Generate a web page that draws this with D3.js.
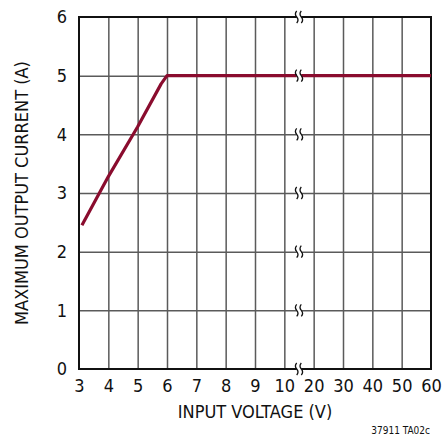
<!DOCTYPE html>
<html><head><meta charset="utf-8">
<script src="https://cdn.jsdelivr.net/npm/d3@7"></script>
<style>
body{margin:0;background:#fff;}
svg text{font-family:"Liberation Sans Narrow","Arial Narrow","DejaVu Sans Condensed",sans-serif;fill:#111;}
</style></head><body>
<svg id="c" width="445" height="436"></svg>
<script>
const xTicks = [3,4,5,6,7,8,9,10,20,30,40,50,60];
const yTicks = [0,1,2,3,4,5,6];
const vin  = [3.1, 4.0, 5.0, 5.8, 6.0, 10, 20, 60];
const iout = [2.45, 3.28, 4.13, 4.86, 5.0, 5.0, 5.0, 5.0];
const xTitle = "INPUT VOLTAGE (V)";
const yTitle = "MAXIMUM OUTPUT CURRENT (A)";
const note = "37911 TA02c";

const L=79, R=431, T=17, B=369;
const w=(R-L)/12;
const x = d3.scaleLinear().domain([3,10,20,60]).range([L, L+7*w, L+8*w, R]);
const y = d3.scaleLinear().domain([0,6]).range([B,T]);
const svg = d3.select("#c");

// grid
const gx = svg.append("g").attr("transform",`translate(0,${B})`)
  .call(d3.axisBottom(x).tickValues(xTicks.slice(1,-1)).tickSize(-(B-T)).tickFormat(""));
gx.select(".domain").remove();
gx.selectAll("line").attr("stroke","#5a5a5a").attr("stroke-width",1.5);
const gy = svg.append("g").attr("transform",`translate(${L},0)`)
  .call(d3.axisLeft(y).tickValues(yTicks.slice(1,-1)).tickSize(-(R-L)).tickFormat(""));
gy.select(".domain").remove();
gy.selectAll("line").attr("stroke","#5a5a5a").attr("stroke-width",1.5);

// border
svg.append("rect").attr("x",L).attr("y",T).attr("width",R-L).attr("height",B-T)
  .attr("fill","none").attr("stroke","#111").attr("stroke-width",2);

// data line
svg.append("path").datum(vin.map((v,i)=>[v,iout[i]]))
  .attr("fill","none").attr("stroke","#8a0c2e").attr("stroke-width",3.2)
  .attr("stroke-linejoin","round")
  .attr("d", d3.line().x(d=>x(d[0])).y(d=>y(d[1])));

// break marks
const bx = (x(10)+x(20))/2;
yTicks.forEach(v=>{
  const yy=y(v);
  svg.append("rect").attr("x",bx-2.2).attr("y",yy-3).attr("width",4.4).attr("height",6).attr("fill","#fff");
  [bx-2.3,bx+2.3].forEach(xx=>{
    svg.append("path").attr("fill","none").attr("stroke","#111").attr("stroke-width",1.3)
      .attr("d",`M${xx},${yy-6} Q${xx-2.6},${yy-3} ${xx},${yy} Q${xx+2.6},${yy+3} ${xx},${yy+6}`);
  });
});

// tick labels
const ax = svg.append("g").attr("transform",`translate(0,${B})`)
  .call(d3.axisBottom(x).tickValues(xTicks).tickSize(0).tickPadding(10).tickFormat(d3.format("d")));
ax.select(".domain").remove();
ax.selectAll("text").attr("font-size",18).attr("font-family",null).style("fill","#111");
const ay = svg.append("g").attr("transform",`translate(${L},0)`)
  .call(d3.axisLeft(y).tickValues(yTicks).tickSize(0).tickPadding(12).tickFormat(d3.format("d")));
ay.select(".domain").remove();
ay.selectAll("text").attr("font-size",18).attr("font-family",null).style("fill","#111");

// titles
svg.append("text").attr("x",(L+R)/2+0).attr("y",418).attr("text-anchor","middle")
  .attr("font-size",18).text(xTitle);
svg.append("text").attr("transform",`translate(28,${(T+B)/2}) rotate(-90)`)
  .attr("text-anchor","middle").attr("font-size",18).text(yTitle);
svg.append("text").attr("x",430).attr("y",434).attr("text-anchor","end")
  .attr("font-size",10).text(note);
</script></body></html>
